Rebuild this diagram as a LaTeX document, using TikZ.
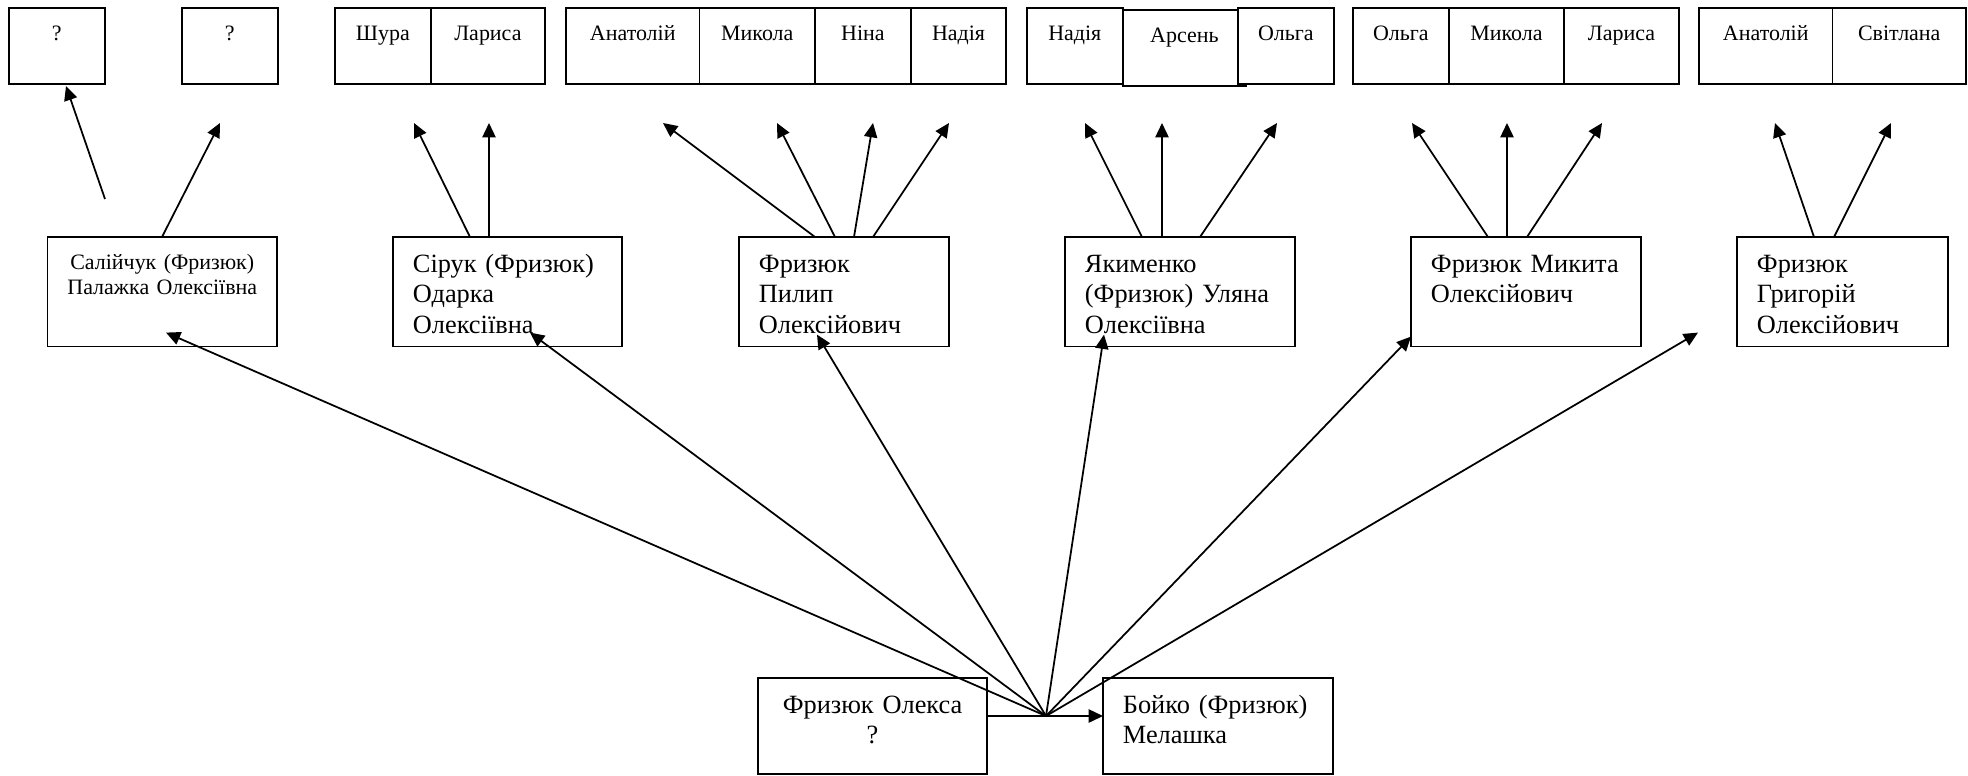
\documentclass[tikz,border=0pt]{standalone}
\usepackage{fontspec}
\setmainfont{Liberation Serif}
\usepackage{tikz}
\usetikzlibrary{arrows.meta,positioning,calc}
\tikzset{famarrow/.style = {
    line width=0.8pt,
    -{Triangle[length=6.5pt,width=6pt]},
  }
}

\begin{document}
\begin{tikzpicture}[x=0.16mm, y=-0.16mm, line width=0.8pt]
  \useasboundingbox (0,0) rectangle (1968,775);
  % styles
  \tikzstyle{kidcell} = [rectangle, draw, outer sep=0pt, inner sep=0pt, text height=14.7pt, text depth=19.77pt, font=\fontsize{10}{12}\selectfont]
  \tikzstyle{parentbox} = [rectangle, draw, outer sep=0pt, inner xsep=9.07pt, inner ysep=0pt, anchor=north west, align=left, text height=16.33pt, text depth=33.56pt, font=\fontsize{12}{13.7}\selectfont]

  % grandchildren
  \node[kidcell, minimum width=43.54pt, anchor=north west] (q1) at (9,8) {?};
  \node[kidcell, minimum width=43.54pt, anchor=north west] (q2) at (182,8) {?};

  \node[kidcell, minimum width=43.54pt, anchor=north west] (shura) at (335,8) {Шура};
  \node[kidcell, minimum width=52.16pt, right=0pt of shura] (larysa1) {Лариса};

  \node[kidcell, minimum width=60.77pt, anchor=north west] (anatoliy1) at (566,8) {Анатолій};
  \node[kidcell, minimum width=52.61pt, right=0pt of anatoliy1] (mykola1) {Микола};
  \node[kidcell, minimum width=43.54pt, right=0pt of mykola1] (nina) {Ніна};
  \node[kidcell, minimum width=43.54pt, right=0pt of nina] (nadia1) {Надія};

  \node[kidcell, minimum width=43.54pt, anchor=north west] (nadia2) at (1027,8) {Надія};
  \node[kidcell, minimum width=56.24pt, right=0pt of nadia2, yshift=-0.91pt] (arsen) {Арсень};
  \node[kidcell, minimum width=43.54pt, anchor=north west, fill=white] (olga1) at (1238,8) {Ольга};

  \node[kidcell, minimum width=43.54pt, anchor=north west] (olga2) at (1353,8) {Ольга};
  \node[kidcell, minimum width=52.61pt, right=0pt of olga2] (mykola2) {Микола};
  \node[kidcell, minimum width=52.16pt, right=0pt of mykola2] (larysa2) {Лариса};

  \node[kidcell, minimum width=60.77pt, anchor=north west] (anatoliy2) at (1699,8) {Анатолій};
  \node[kidcell, minimum width=60.77pt, right=0pt of anatoliy2] (svitlana) {Світлана};

  % children of Oleksa
  \node[parentbox, align=center, inner xsep=4pt, text width=96.5pt, text height=14.97pt, text depth=34.92pt, font=\fontsize{10}{11}\selectfont] (salij) at (47.5,237) {Салійчук (Фризюк)\\Палажка Олексіївна};
  \node[parentbox, text width=86.2pt] (siruk) at (393,237) {Сірук~(Фризюк)\\Одарка\\Олексіївна};
  \node[parentbox, text width=77.6pt] (pylyp) at (739,237) {Фризюк\\Пилип\\Олексійович};
  \node[parentbox, text width=86.6pt] (yakym) at (1065,237) {Якименко\\(Фризюк)~Уляна\\Олексіївна};
  \node[parentbox, text width=86.6pt] (mykyta) at (1411,237) {Фризюк~Микита\\Олексійович};
  \node[parentbox, text width=78.0pt] (hryh) at (1737,237) {Фризюк\\Григорій\\Олексійович};

  % parents
  \node[parentbox, align=center, inner xsep=4pt, text width=96.3pt, text depth=27.21pt] (oleksa) at (758,678) {Фризюк Олекса\\?};
  \node[parentbox, text width=86.6pt, text depth=27.21pt] (melashka) at (1103,678) {Бойко~(Фризюк)\\Мелашка};

  \coordinate (hub) at (1046,716);
  \draw[famarrow] (oleksa.east |- hub) -- (melashka.west |- hub);

  \draw[famarrow] (hub) -- ($(salij.south west)+(118.5,-14)$);
  \draw[famarrow] (hub) -- ($(siruk.south west)+(137,-14)$);
  \draw[famarrow] (hub) -- ($(pylyp.south west)+(78,-12)$);
  \draw[famarrow] (hub) -- ($(yakym.south west)+(39,-12)$);
  \draw[famarrow] (hub) -- ($(mykyta.south west)+(0,-10)$);
  \draw[famarrow] (hub) -- ($(hryh.south west)+(-39,-14)$);

  % up to the grandchildren
  \draw[famarrow] ($(salij.north west)+(57.5,-38)$) -- ($(salij.north west)+(18.5,-151)$);
  \draw[famarrow] ($(salij.north west)+(114.5,0)$) -- ($(salij.north west)+(172.5,-114)$);

  \draw[famarrow] ($(siruk.north west)+(77,0)$) -- ($(siruk.north west)+(21,-114)$);
  \draw[famarrow] ($(siruk.north west)+(96,0)$) -- ($(siruk.north west)+(96,-114)$);

  \draw[famarrow] ($(pylyp.north west)+(76,0)$) -- ($(pylyp.north west)+(-76,-114)$);
  \draw[famarrow] ($(pylyp.north west)+(96,0)$) -- ($(pylyp.north west)+(38,-114)$);
  \draw[famarrow] ($(pylyp.north west)+(115,0)$) -- ($(pylyp.north west)+(134,-114)$);
  \draw[famarrow] ($(pylyp.north west)+(134,0)$) -- ($(pylyp.north west)+(210,-114)$);

  \draw[famarrow] ($(yakym.north west)+(77,0)$) -- ($(yakym.north west)+(20,-114)$);
  \draw[famarrow] ($(yakym.north west)+(97,0)$) -- ($(yakym.north west)+(97,-114)$);
  \draw[famarrow] ($(yakym.north west)+(135,0)$) -- ($(yakym.north west)+(212,-114)$);

  \draw[famarrow] ($(mykyta.north west)+(77,0)$) -- ($(mykyta.north west)+(1,-114)$);
  \draw[famarrow] ($(mykyta.north west)+(96,0)$) -- ($(mykyta.north west)+(96,-114)$);
  \draw[famarrow] ($(mykyta.north west)+(116,0)$) -- ($(mykyta.north west)+(191,-114)$);

  \draw[famarrow] ($(hryh.north west)+(77,0)$) -- ($(hryh.north west)+(38,-114)$);
  \draw[famarrow] ($(hryh.north west)+(97,0)$) -- ($(hryh.north west)+(154,-114)$);
\end{tikzpicture}
\end{document}
